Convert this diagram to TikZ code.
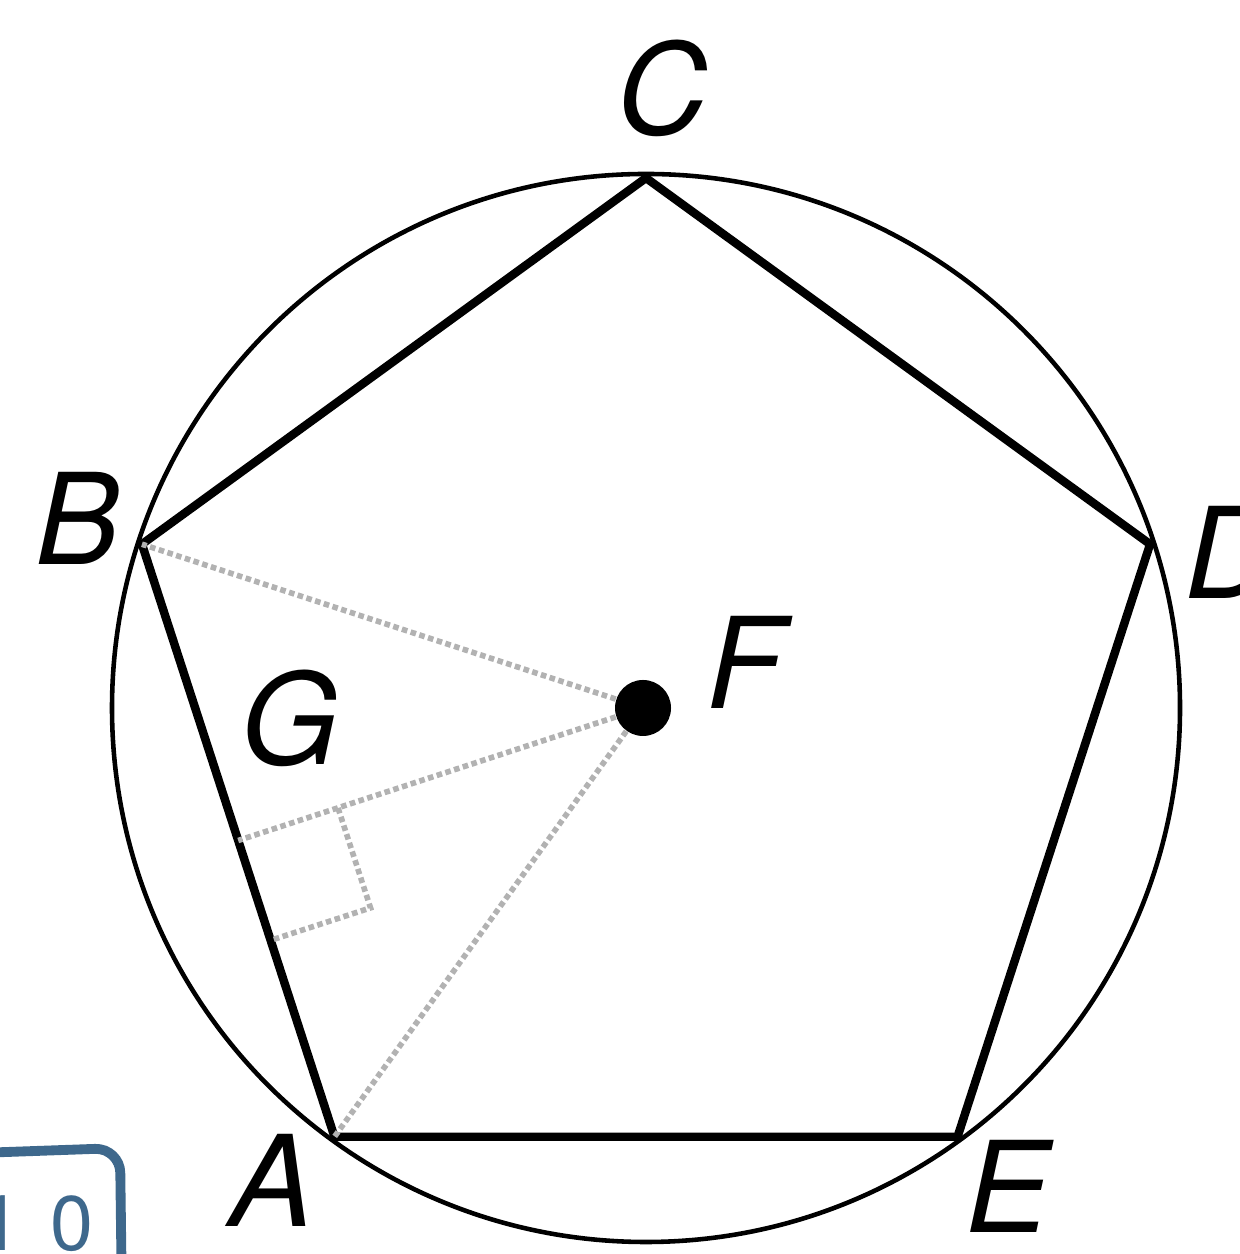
\documentclass[tikz,border=0pt]{standalone}
\usepackage{fontspec}
\setsansfont{TeX Gyre Heros}
\usetikzlibrary{positioning, calc}
\definecolor{inkblue}{RGB}{62,104,140}
\tikzset{
    side/.style={line width=2.4pt, line cap=round, line join=round},
    aux/.style={black!30, line width=1.6pt, densely dotted},
    lbl/.style={font=\sffamily\itshape\fontsize{36}{40}\selectfont, inner sep=0pt},
}
\begin{document}
\begin{tikzpicture}
\useasboundingbox (0,0) rectangle (12.39,12.54);
% circle and centre
\coordinate (F) at (6.46,5.46);
\draw[line width=1.3pt] (F) circle (5.34);
\node[circle, fill, minimum size=0.56cm, inner sep=0pt] (Fdot) at (6.43,5.46) {};

% pentagon
\coordinate (C) at ($(F)+(90:5.3)$);
\coordinate (B) at ($(F)+(162:5.3)$);
\coordinate (A) at ($(F)+(234:5.3)$);
\coordinate (E) at ($(F)+(306:5.3)$);
\coordinate (D) at ($(F)+(18:5.3)$);
\draw[side] (A) -- (B) -- (C) -- (D) -- (E) -- cycle;

% radii, apothem and right angle
\coordinate (G) at ($(A)!0.5!(B)$);
\draw[aux] (Fdot) -- (B);
\draw[aux] (Fdot) -- (A);
\draw[aux] (Fdot) -- (G);
\coordinate (g1) at ($(G)!1.05cm!(F)$);
\coordinate (g2) at ($(G)!1.05cm!(A)$);
\coordinate (g3) at ($(g1)+(g2)-(G)$);
\draw[aux] (g1) -- (g3) -- (g2);

% labels
\node[lbl] (labC) at (6.62,11.66) {C};
\node[lbl] (labB) at (0.78,7.36) {B};
\node[lbl] (labD) at (12.3,7.02) {D};
\node[lbl] (labF) at (7.45,5.92) {F};
\node[lbl] (labG) at (2.90,5.36) {G};
\node[lbl] (labA) at (2.72,0.74) {A};
\node[lbl] (labE) at (10.08,0.68) {E};

% problem number box
\draw[inkblue, line width=2.8pt, rounded corners=0.25cm]
    (-0.5,1.0) -- (1.2,1.06) -- (1.22,-0.5);
\node[inkblue, font=\sffamily\fontsize{22}{24}\selectfont, inner sep=0pt] (num) at (0.36,0.3) {1\hspace{0.29cm}0};
\end{tikzpicture}
\end{document}
